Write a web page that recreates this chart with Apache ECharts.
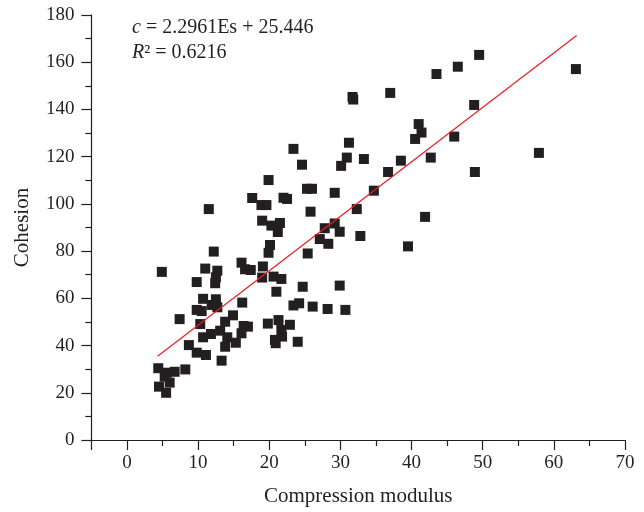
<!DOCTYPE html>
<html><head><meta charset="utf-8">
<script src="https://cdn.jsdelivr.net/npm/echarts@6/dist/echarts.min.js"></script>
<style>html,body{margin:0;padding:0;background:#fff}#c{width:644px;height:512px}</style>
</head><body><div id="c"></div>
<script>
// Data
const compressionModulus = [4.4,5.6,6.7,8.2,5.3,6.0,4.5,5.5,8.7,9.8,11.1,13.3,7.4,10.3,11.8,10.7,13.1,14.1,13.8,15.3,
  13.8,14.9,16.4,17.0,16.1,16.2,9.8,10.5,11.9,12.7,10.7,12.5,9.8,12.5,12.4,11.0,12.7,4.9,16.1,16.6,
  12.2,11.5,17.4,19.1,19.0,20.6,21.7,21.0,24.7,29.9,23.4,24.2,26.1,28.2,30.7,19.8,21.3,22.9,21.7,21.8,
  20.8,20.9,24.0,19.9,20.1,25.4,19.0,20.3,21.5,21.2,17.6,18.9,19.6,22.0,22.5,19.9,23.4,24.6,25.3,26.0,
  25.8,29.2,27.8,29.2,29.9,27.1,28.3,32.8,32.3,31.2,30.9,30.1,33.3,31.7,31.8,37.0,34.7,36.7,38.5,42.7,
  41.0,41.4,40.5,46.0,48.8,48.9,43.5,46.5,49.5,57.9,63.1,41.9,39.5];
const cohesion = [30.4,28.5,28.9,29.9,26.8,24.3,22.6,20.0,40.2,37.0,36.0,33.6,51.2,49.1,44.9,43.5,46.3,43.5,39.5,41.2,
  50.1,52.8,48.3,48.0,45.2,58.2,55.1,54.6,57.2,56.2,59.8,59.6,66.9,68.9,66.4,72.6,71.7,71.2,75.1,72.3,
  79.8,97.8,72.0,73.5,68.8,69.2,68.2,62.8,64.9,65.4,57.0,57.9,56.5,55.5,55.1,49.3,50.8,48.8,46.6,43.8,
  42.4,41.0,41.6,79.3,82.6,79.0,92.9,90.8,91.9,88.1,102.5,99.5,99.5,102.6,102.1,110.1,123.3,116.6,106.4,106.4,
  96.7,104.7,89.7,91.7,88.2,85.1,83.1,86.4,97.8,125.9,119.6,116.1,119.0,145.3,144.2,147.0,105.6,113.5,118.3,119.6,
  133.8,130.2,127.5,128.5,141.9,113.5,155.0,158.1,163.1,121.6,157.1,94.5,82.0];
// Fitted line end points: c = 2.2961Es + 25.446
const fitX = [4.3, 63.2];
const fitY = [35.5, 171.3];
const xMajorTicks = [-5,0,10,20,30,40,50,60,70];
const xLabels = [0,10,20,30,40,50,60,70];
const xMinorTicks = [5,15,25,35,45,55,65];
const xName = 'Compression modulus';
const yName = 'Cohesion';

const ink = '#231f20';
const font = '"Liberation Serif", "DejaVu Serif", serif';
const chart = echarts.init(document.getElementById('c'), null, {renderer: 'canvas'});
chart.setOption({
  animation: false,
  backgroundColor: '#fff',
  grid: {left: 91.4, right: 19, top: 15, bottom: 72, containLabel: false},
  xAxis: [{
    type: 'value', min: -5, max: 70, interval: 5,
    name: xName, nameLocation: 'middle', nameGap: 46,
    nameTextStyle: {color: ink, fontFamily: font, fontSize: 21},
    axisLine: {show: true, onZero: false, lineStyle: {color: ink, width: 1.2}},
    axisTick: {show: true, length: 10, customValues: xMajorTicks, lineStyle: {color: ink, width: 1.2}},
    axisLabel: {show: true, customValues: xLabels, margin: 14, color: ink, fontFamily: font, fontSize: 19},
    splitLine: {show: false}
  }, {
    type: 'value', min: -5, max: 70, interval: 5, position: 'bottom',
    axisLine: {show: false, onZero: false},
    axisTick: {show: true, length: 6, customValues: xMinorTicks, lineStyle: {color: ink, width: 1.2}},
    axisLabel: {show: false},
    splitLine: {show: false}
  }],
  yAxis: {
    type: 'value', min: 0, max: 180, interval: 20,
    name: yName, nameLocation: 'middle', nameGap: 58,
    nameTextStyle: {color: ink, fontFamily: font, fontSize: 21},
    axisLine: {show: true, onZero: false, lineStyle: {color: ink, width: 1.2}},
    axisTick: {show: true, length: 10, lineStyle: {color: ink, width: 1.2}},
    minorTick: {show: true, splitNumber: 2, length: 6, lineStyle: {color: ink, width: 1.2}},
    axisLabel: {margin: 17, color: ink, fontFamily: font, fontSize: 19},
    splitLine: {show: false}, minorSplitLine: {show: false}
  },
  graphic: [
    {type: 'text', left: 132, top: 18, z: 10, style: {
      text: '{i|c} = 2.2961Es + 25.446', fill: ink, font: '20px ' + font,
      rich: {i: {fontStyle: 'italic', fontFamily: font, fontSize: 20, fill: ink}}
    }},
    {type: 'text', left: 132, top: 43, z: 10, style: {
      text: '{i|R}² = 0.6216', fill: ink, font: '20px ' + font,
      rich: {i: {fontStyle: 'italic', fontFamily: font, fontSize: 20, fill: ink}}
    }}
  ],
  series: [{
    type: 'scatter', xAxisIndex: 0, symbol: 'rect', symbolSize: 10,
    itemStyle: {color: ink, opacity: 1}, z: 2,
    data: compressionModulus.map((x, i) => [x, cohesion[i]])
  }, {
    type: 'line', xAxisIndex: 0, showSymbol: false, symbol: 'none', z: 3,
    lineStyle: {color: '#ec1c24', width: 1.2},
    data: fitX.map((x, i) => [x, fitY[i]])
  }]
});
</script></body></html>
